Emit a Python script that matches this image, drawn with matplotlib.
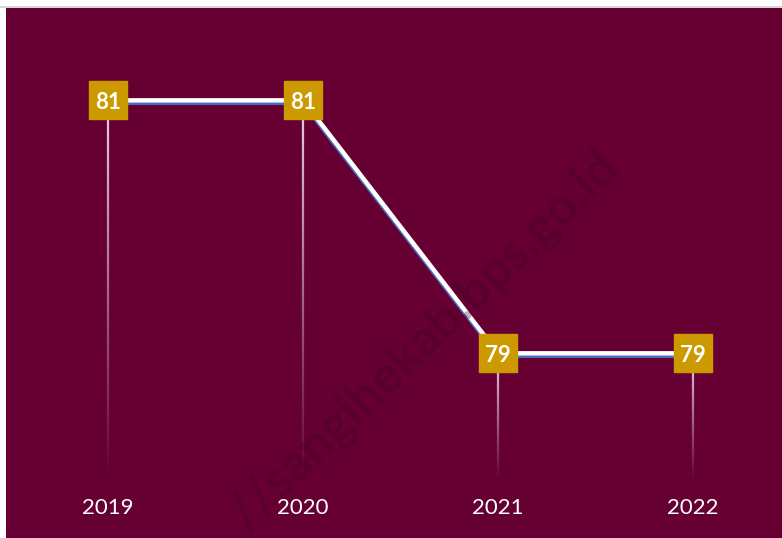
import numpy as np
import matplotlib.pyplot as plt
import matplotlib.patheffects as pe
from matplotlib.collections import LineCollection
from matplotlib.lines import Line2D

# data
years = ["2019", "2020", "2021", "2022"]
values = [81, 81, 79, 79]

bg = "#660033"
gold = "#CC9900"
W, H = 782, 538

fig = plt.figure(figsize=(W / 100, H / 100), dpi=100, facecolor="white")
# plot area in pixels: x 6..782, y 8..538 (from top)
ax = fig.add_axes([6 / W, 0, 776 / W, 530 / H])
ax.set_facecolor(bg)
for s in ax.spines.values():
    s.set_visible(False)
ax.set_xticks([])
ax.set_yticks([])

# thin grey line above plot area
fig.add_artist(Line2D([0, 1], [1 - 7 / H, 1 - 7 / H], color="#d0d0d0", lw=1.2,
                      transform=fig.transFigure))

x = np.arange(len(years))
base = 78.0
ax.set_xlim(-0.523, 3.456)
ax.set_ylim(77.54, 81.73)

# drop lines fading towards the bottom
for xi, v in zip(x, values):
    ys = np.linspace(v, base, 60)
    segs = [[(xi, ys[k]), (xi, ys[k + 1])] for k in range(len(ys) - 1)]
    alphas = np.linspace(0.95, 0.0, len(segs))
    cols = [(0.93, 0.88, 0.91, a) for a in alphas]
    ax.add_collection(LineCollection(segs, colors=cols, linewidths=1.6, zorder=2))

# main line with blue shadow
ax.plot(x, values, color="white", lw=3.2, solid_capstyle="butt", zorder=3,
        path_effects=[pe.SimpleLineShadow(offset=(0, -1.8), shadow_color="#4a6cc0", alpha=1.0),
                      pe.Normal()])

# value boxes
ax.plot(x, values, ls="none", marker="s", markersize=28, markerfacecolor=gold,
        markeredgecolor=gold, zorder=4)
for xi, v in zip(x, values):
    ax.text(xi, v, f"{v}", color="white", fontsize=16, fontweight="bold",
            family=["Lato", "DejaVu Sans"], ha="center", va="center_baseline", zorder=5)

# year labels
for xi, yr in zip(x, years):
    ax.text(xi, 77.78, yr, color="white", fontsize=16, family=["Lato", "DejaVu Sans"],
            ha="center", va="center", zorder=5)

# watermark
fig.text(612 / W, 1 - 160 / H, "//sangihekab.bps.go.id", color="#3d001d", alpha=0.3,
         fontsize=37, fontweight="bold", family=["Lato", "DejaVu Sans"], rotation=44,
         rotation_mode="anchor", ha="right", va="center", zorder=6)

fig.savefig("out.png", dpi=100, facecolor="white")
